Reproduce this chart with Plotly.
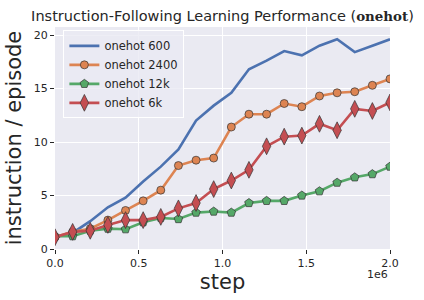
import plotly.graph_objects as go

steps = [0, 105263, 210526, 315789, 421053, 526316, 631579, 736842, 842105, 947368,
         1052632, 1157895, 1263158, 1368421, 1473684, 1578947, 1684211, 1789474, 1894737, 2000000]
onehot_600 = [1.1, 1.5, 2.6, 3.9, 4.8, 6.3, 7.7, 9.3, 12.0, 13.4,
              14.6, 16.8, 17.6, 18.5, 18.1, 19.0, 19.6, 18.4, 19.0, 19.6]
onehot_2400 = [1.1, 1.6, 1.9, 2.7, 3.6, 4.5, 5.5, 7.8, 8.3, 8.5,
               11.4, 12.6, 12.6, 13.6, 13.3, 14.3, 14.6, 14.7, 15.3, 15.9]
onehot_12k = [1.2, 1.2, 1.7, 1.9, 1.85, 2.5, 2.9, 2.8, 3.4, 3.5,
              3.4, 4.3, 4.5, 4.5, 5.0, 5.4, 6.2, 6.7, 7.0, 7.7]
onehot_6k = [1.1, 1.6, 1.7, 2.25, 2.7, 2.7, 3.0, 3.8, 4.3, 5.6,
             6.4, 7.4, 9.6, 10.5, 10.6, 11.7, 11.1, 13.1, 12.9, 13.7]

x_tickvals = [0, 500000, 1000000, 1500000, 2000000]
x_ticktext = ["0.0", "0.5", "1.0", "1.5", "2.0"]
y_tickvals = [0, 5, 10, 15, 20]
y_ticktext = ["0", "5", "10", "15", "20"]

FONT = "DejaVu Sans"
EDGE = dict(color="#333333", width=0.7)

fig = go.Figure()
fig.add_trace(go.Scatter(x=steps, y=onehot_600, mode="lines", name="onehot 600",
                         line=dict(color="#4C72B0", width=2.6)))
fig.add_trace(go.Scatter(x=steps, y=onehot_2400, mode="lines+markers", name="onehot 2400",
                         line=dict(color="#DD8452", width=2.6),
                         marker=dict(symbol="circle", size=8, color="#DD8452", line=EDGE)))
fig.add_trace(go.Scatter(x=steps, y=onehot_12k, mode="lines+markers", name="onehot 12k",
                         line=dict(color="#55A868", width=2.6),
                         marker=dict(symbol="pentagon", size=9, color="#55A868", line=EDGE)))
fig.add_trace(go.Scatter(x=steps, y=onehot_6k, mode="lines+markers", name="onehot 6k",
                         line=dict(color="#C44E52", width=2.6),
                         marker=dict(symbol="diamond-tall", size=12, color="#C44E52", line=EDGE)))

fig.update_layout(
    width=424, height=300,
    margin=dict(l=55, r=34, t=27, b=51),
    paper_bgcolor="white", plot_bgcolor="#EAEAF2",
    font=dict(family=FONT, color="#262626", size=11),
    title=dict(text="Instruction-Following Learning Performance (<span style=\"font-family:DejaVu Serif;font-size:13.4px\"><b>onehot</b></span>)",
               x=0.5, xref="paper", xanchor="center", y=1 - 16 / 300, yref="container", yanchor="middle",
               font=dict(family=FONT, size=14.5, color="#262626")),
    showlegend=True,
    legend=dict(x=0.025, y=0.985, xanchor="left", yanchor="top",
                bgcolor="rgba(234,234,242,0.8)", bordercolor="white", borderwidth=1,
                font=dict(family=FONT, size=11.5, color="#262626"),
                itemwidth=30, tracegroupgap=0),
    xaxis=dict(range=[0, 2000000], tickvals=x_tickvals, ticktext=x_ticktext, automargin=False,
               showgrid=True, gridcolor="white", gridwidth=1, zeroline=False,
               ticks="outside", ticklen=4, tickcolor="#262626", tickwidth=1,
               tickfont=dict(size=11, color="#262626"),
               title=dict(text="step", font=dict(size=21, color="#262626"), standoff=4)),
    yaxis=dict(range=[0, 20.75], tickvals=y_tickvals, ticktext=y_ticktext, automargin=False,
               showgrid=True, gridcolor="white", gridwidth=1, zeroline=False,
               ticks="outside", ticklen=4, tickcolor="#262626", tickwidth=1,
               tickfont=dict(size=11, color="#262626"),
               title=dict(text="instruction / episode", font=dict(size=21, color="#262626"), standoff=6)),
    annotations=[dict(text="1e6", x=1, xref="paper", y=-0.075, yref="paper",
                      xanchor="right", yanchor="top", showarrow=False,
                      font=dict(size=11, color="#262626"))],
)

fig.write_html("out.html", config={"displayModeBar": False},
               post_script="document.body.style.margin='0';document.body.style.overflow='hidden';")
